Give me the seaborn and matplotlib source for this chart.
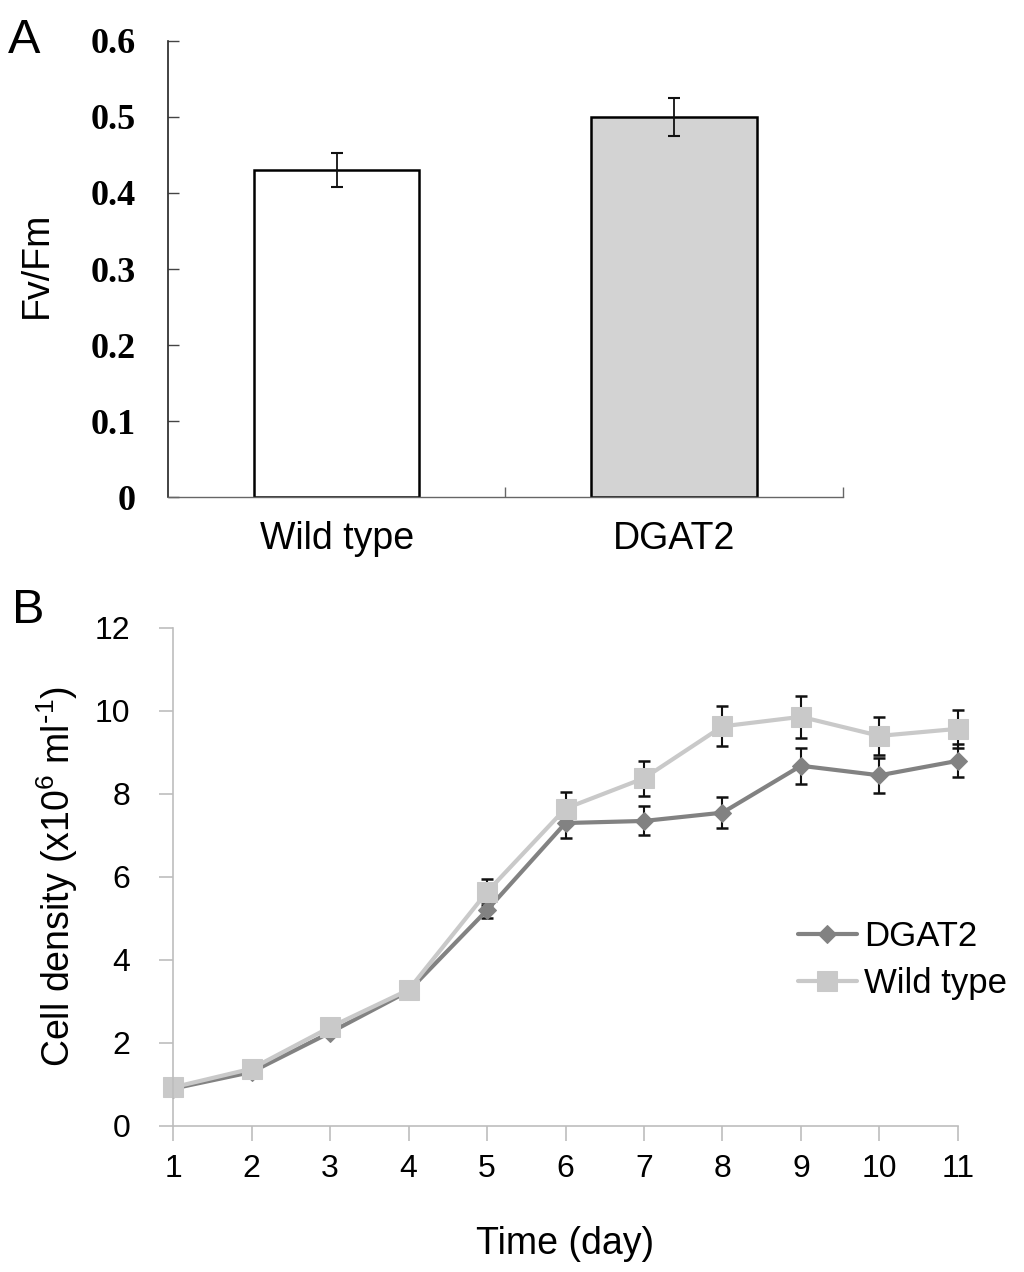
import numpy as np
import pandas as pd
import matplotlib
matplotlib.use("Agg")
import matplotlib.pyplot as plt
import seaborn as sns
from matplotlib.ticker import FixedLocator, FixedFormatter

# ---------------- data ----------------
# Panel A
a_categories = ["Wild type", "DGAT2"]
a_values = [0.43, 0.50]
a_errors = [0.022, 0.025]
a_colors = ["#ffffff", "#d3d3d3"]
a_yticks = [0, 0.1, 0.2, 0.3, 0.4, 0.5, 0.6]
a_yticklabels = ["0", "0.1", "0.2", "0.3", "0.4", "0.5", "0.6"]

# Panel B
days = [1, 2, 3, 4, 5, 6, 7, 8, 9, 10, 11]
dgat2_density = [0.90, 1.30, 2.25, 3.25, 5.20, 7.30, 7.35, 7.55, 8.68, 8.45, 8.80]
dgat2_err = [0.05, 0.06, 0.08, 0.08, 0.20, 0.35, 0.35, 0.38, 0.44, 0.42, 0.40]
wt_density = [0.93, 1.38, 2.38, 3.28, 5.64, 7.65, 8.38, 9.63, 9.86, 9.40, 9.57]
wt_err = [0.05, 0.06, 0.08, 0.08, 0.32, 0.40, 0.42, 0.48, 0.50, 0.46, 0.46]
b_yticks = [0, 2, 4, 6, 8, 10, 12]

# ---------------- style ----------------
sns.set_style("white")
plt.rcParams["font.family"] = ["Liberation Sans", "DejaVu Sans"]
plt.rcParams["mathtext.default"] = "regular"
plt.rcParams["text.color"] = "black"
plt.rcParams["axes.labelcolor"] = "black"
plt.rcParams["xtick.labelcolor"] = "black"
plt.rcParams["ytick.labelcolor"] = "black"

fig = plt.figure(figsize=(10.24, 12.72), dpi=100)

# ---------------- Panel A ----------------
axA = fig.add_axes([0.164, 0.609, 0.659, 0.359])
dfA = pd.DataFrame({"group": a_categories, "value": a_values})
sns.barplot(data=dfA, x="group", y="value", hue="group", palette=a_colors,
            order=a_categories, hue_order=a_categories, legend=False,
            edgecolor="black", linewidth=1.8, width=0.49, ax=axA)
axA.errorbar(x=np.arange(len(a_categories)), y=a_values, yerr=a_errors,
             fmt="none", ecolor="#111111", elinewidth=1.3, capsize=4, capthick=1.5)
axA.set_xlim(-0.5, 1.5)
axA.set_ylim(0, 0.6)
sns.despine(ax=axA)
axA.spines["left"].set_color("#222222")
axA.spines["left"].set_linewidth(1.2)
axA.spines["bottom"].set_color("#666666")
axA.spines["bottom"].set_linewidth(1.0)
axA.yaxis.set_major_locator(FixedLocator(a_yticks))
axA.yaxis.set_major_formatter(FixedFormatter(a_yticklabels))
axA.tick_params(axis="y", direction="in", length=8, width=1, color="#444444",
                labelcolor="black", pad=23, left=True)
for lab in axA.get_yticklabels():
    lab.set_fontfamily(["Liberation Serif", "DejaVu Serif"])
    lab.set_fontweight("bold")
    lab.set_fontsize(26)
    lab.set_color("black")
axA.set_xticks([0, 1])
axA.set_xticklabels(a_categories, fontsize=27, color="black")
axA.tick_params(axis="x", which="major", length=0, pad=17)
axA.set_xticks([0.5, 1.5], minor=True)
axA.tick_params(axis="x", which="minor", direction="in", length=7, width=1,
                color="#666666", bottom=True)
axA.set_xlabel("")
axA.set_ylabel("Fv/Fm", fontsize=27, color="black")
axA.yaxis.set_label_coords(-0.167, 0.509)

# ---------------- Panel B ----------------
axB = fig.add_axes([0.169, 0.1148, 0.7665, 0.3915])
dgat2_color = "#828282"
wt_color = "#c9c9c9"

axB.errorbar(x=days, y=dgat2_density, yerr=dgat2_err, fmt="none", ecolor="#111111",
             elinewidth=1.5, capsize=4, capthick=1.8, zorder=1.5, clip_on=False)
axB.errorbar(x=days, y=wt_density, yerr=wt_err, fmt="none", ecolor="#111111",
             elinewidth=1.5, capsize=4, capthick=1.8, zorder=1.6, clip_on=False)
sns.lineplot(x=days, y=dgat2_density, color=dgat2_color, marker="D", markersize=9,
             markeredgecolor=dgat2_color, linewidth=3, label="DGAT2", ax=axB,
             zorder=2, clip_on=False)
sns.lineplot(x=days, y=wt_density, color=wt_color, marker="s", markersize=14,
             markeredgecolor=wt_color, linewidth=3, label="Wild type", ax=axB,
             zorder=2.1, clip_on=False)

axB.set_xlim(1, 11)
axB.set_ylim(0, 12)
sns.despine(ax=axB)
for s in ["left", "bottom"]:
    axB.spines[s].set_color("#bdbdbd")
    axB.spines[s].set_linewidth(1.2)
axB.set_xticks(days)
axB.set_yticks(b_yticks)
axB.tick_params(axis="x", direction="out", length=11, width=1.2, color="#bdbdbd",
                labelcolor="black", labelsize=23, pad=9, bottom=True)
axB.tick_params(axis="y", direction="out", length=10, width=1.2, color="#bdbdbd",
                labelcolor="black", labelsize=23, pad=21, left=True)
axB.set_xlabel("Time (day)", fontsize=27, color="black")
axB.xaxis.set_label_coords(0.5, -0.2)
axB.set_ylabel(r"Cell density (x10$^{6}$ ml$^{\text{-}1}$)", fontsize=27, color="black")
axB.yaxis.set_label_coords(-0.118, 0.5)

leg = axB.legend(loc="center left", bbox_to_anchor=(0.796, 0.333), frameon=False,
                 fontsize=25, handlelength=1.7, handletextpad=0.2,
                 labelspacing=0.4, borderpad=0, borderaxespad=0)
for t in leg.get_texts():
    t.set_color("black")

# ---------------- panel labels ----------------
fig.text(0.008, 0.986, "A", fontsize=35, va="top", ha="left", color="black")
fig.text(0.012, 0.538, "B", fontsize=35, va="top", ha="left", color="black")

fig.savefig("out.png", dpi=100, facecolor="white")
